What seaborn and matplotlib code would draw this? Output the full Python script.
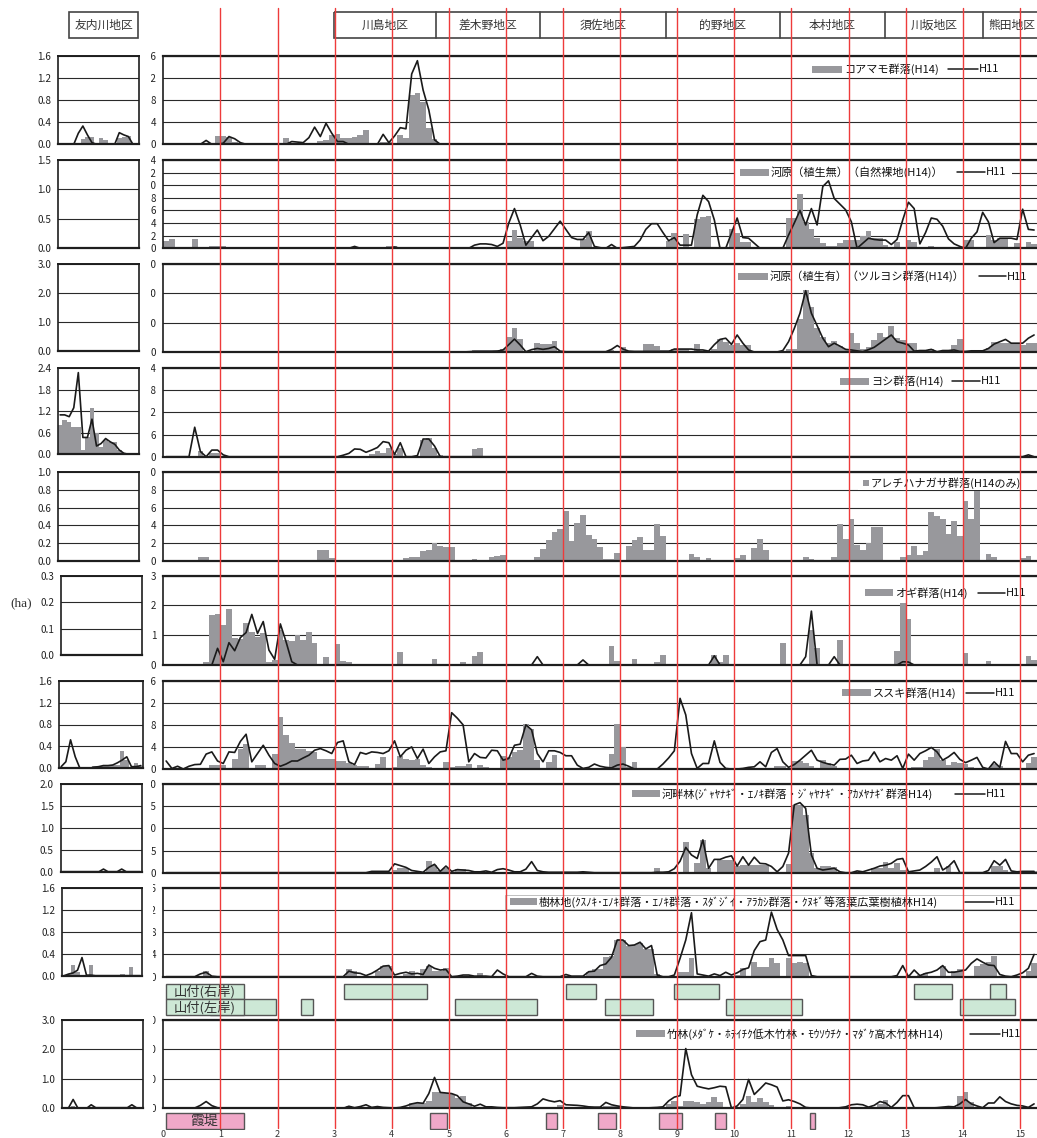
import numpy as np
import seaborn as sns
import matplotlib.pyplot as plt
from matplotlib.patches import Rectangle
from matplotlib.lines import Line2D
from matplotlib.transforms import Affine2D, Bbox, TransformedBbox

W, H = 1037, 1138
N = 153   # 0.1 km bins along the main river (0.0 - 15.3 km)
NL = 18   # survey points in the 友内川 panels


def pad(vals, n=N):
    # bins after the last listed value are empty
    vals = list(vals)[:n]
    return vals + [0] * (n - len(vals))


km = [round(0.05 + 0.1 * i, 2) for i in range(N)]
pts = list(range(NL))

# ---- main river: H14 area (bars) and H11 area (line), ha -------------------
koamamo_h14 = pad([
    0, 0, 0, 0, 0, 0, 0, 0, 0, 1.5,
    1.5, 1.3, 0.5, 0, 0, 0, 0, 0, 0, 0,
    0, 1.1, 0.2, 0.2, 0.2, 0.2, 0, 0.6, 0.7, 1.7,
    1.8, 1.2, 1.2, 1.4, 1.7, 2.5, 0, 0, 0.5, 0.5,
    0, 1.6, 1.2, 8.9, 9.2, 7.6, 2.9, 1.0, 0, 0,
    0, 0, 0, 0, 0, 0, 0, 0, 0.1])
koamamo_h11 = pad([
    0, 0, 0, 0, 0, 0, 0, 0.7, 0, 0,
    0.2, 1.4, 1.0, 0.3, 0, 0, 0, 0, 0, 0,
    0, 0, 0.5, 0.4, 0.3, 1.2, 3.1, 1.4, 3.8, 2.0,
    0.5, 0.5, 0, 0, 0, 0, 0, 0, 1.8, 0.3,
    1.5, 3.0, 2.8, 12.7, 15.1, 9.8, 6.2, 0.8])

kawara_bare_h14 = pad([
    1.2, 1.4, 0, 0.1, 0, 1.5, 0, 0, 0.4, 0.4,
    0.4, 0, 0, 0, 0, 0, 0.1, 0, 0, 0,
    0, 0, 0, 0, 0, 0.2, 0, 0, 0, 0,
    0, 0, 0, 0, 0, 0, 0, 0, 0, 0.3,
    0.3, 0, 0, 0, 0, 0, 0, 0, 0, 0,
    0, 0, 0, 0, 0, 0, 0, 0, 0, 0,
    1.2, 2.9, 1.7, 1.2, 1.2, 0, 0, 0, 0, 0,
    0, 0, 0, 1.4, 2.8, 0, 0, 0, 0, 0,
    0, 0, 0, 0, 0, 0, 0, 0, 1.2, 2.4,
    0, 2.3, 0, 4.6, 5.0, 5.2, 0, 0, 0, 3.0,
    2.5, 1.0, 1.0, 0, 0, 0, 0, 0, 0, 4.8,
    4.8, 8.6, 4.2, 3.1, 1.7, 0.9, 0.4, 0.3, 0.8, 1.3,
    1.3, 1.3, 2.0, 2.8, 1.6, 1.6, 0.5, 0, 1.0, 0,
    1.3, 1.0, 0, 0, 0.3, 0, 0, 0, 0, 0,
    1.3, 1.3, 0, 0, 2.1, 1.3, 1.6, 1.6, 0, 0.8,
    0, 1.0, 0.7])
kawara_bare_h11 = pad([0] * 33 + [0.3, 0, 0, 0, 0, 0, 0,
    0.2, 0, 0, 0, 0, 0, 0, 0, 0, 0,
    0, 0, 0, 0, 0.5, 0.7, 0.7, 0.6, 0.3, 0.8,
    4.0, 6.3, 3.7, 0.5, 1.7, 2.9, 1.2, 1.9, 3.1, 4.3,
    3.0, 1.7, 1.4, 1.4, 2.5, 0.3, 0.1, 0, 0.6, 0,
    0.1, 0.2, 0.3, 1.3, 3.0, 3.9, 3.9, 2.5, 1.2, 1.7,
    0.5, 0.5, 0.5, 5.3, 8.4, 7.4, 4.5, 0, 0, 2.4,
    4.8, 1.7, 1.6, 0.8, 0, 0, 0, 0, 0, 2.1,
    4.0, 6.0, 3.7, 6.3, 3.7, 9.8, 10.7, 7.9, 7.0, 6.1,
    4.2, 0, 0.8, 1.6, 1.4, 1.3, 1.3, 0.6, 1.4, 4.5,
    7.3, 6.3, 0.7, 2.5, 4.8, 4.6, 3.5, 1.5, 0.7, 0.3,
    0, 1.6, 2.6, 5.7, 4.2, 0.9, 1.6, 1.6, 1.6, 1.4,
    6.2, 3.0, 2.9])

kawara_veg_h14 = pad([0] * 50 + [
    0.3, 0.3, 0, 0, 0.6, 0.6, 0.6, 0.6, 0.6, 1.0,
    5.0, 8.1, 4.3, 0.3, 0.3, 3.2, 2.7, 2.7, 3.8, 0.5,
    0.5, 0, 0.5, 0, 0.5, 0.5, 0, 0, 0.8, 0,
    1.8, 0, 0, 0, 2.7, 2.7, 2.0, 0.8, 0.8, 1.0,
    1.0, 1.0, 0, 2.6, 0, 0, 1.0, 4.3, 3.5, 2.4,
    3.0, 2.4, 2.4, 0, 0, 0, 0, 0, 0, 0.9,
    0.9, 11.1, 21.1, 15.5, 8.1, 5.2, 3.0, 3.8, 2.0, 0.9,
    6.6, 3.0, 0.9, 1.8, 4.1, 6.4, 5.2, 8.9, 4.9, 4.1,
    3.0, 3.0, 0.7, 0.3, 0.9, 0, 0, 0, 2.4, 4.3,
    0, 0.5, 0.5, 0.8, 1.2, 3.5, 3.2, 3.2, 3.2, 3.2,
    2.4, 3.0, 3.0])
kawara_veg_h11 = pad([0] * 50 + [
    0, 0, 0, 0.1, 0.2, 0.2, 0.2, 0.2, 0.3, 0.7,
    2.5, 4.4, 2.4, 0.1, 0.8, 1.2, 0.9, 1.2, 1.8, 0.3,
    0.1, 0.1, 0.1, 0.1, 0.1, 0.1, 0.1, 0.1, 0.9, 2.2,
    1.0, 0.3, 0.2, 0.2, 0.2, 0.2, 0.2, 0.2, 0.2, 1.0,
    1.0, 1.0, 1.0, 0.7, 0.7, 0.3, 2.5, 4.3, 4.7, 2.6,
    5.8, 3.0, 0.7, 0, 0, 0, 0, 0, 0.5, 3.5,
    8.0, 13.2, 20.9, 13.2, 9.0, 4.7, 1.8, 3.0, 2.0, 0.9,
    0.7, 0.4, 0.1, 0.8, 1.6, 3.0, 4.4, 5.8, 3.5, 3.0,
    2.4, 0.3, 0.5, 0.5, 0.9, 0.1, 0.5, 0.5, 0.7, 0.2,
    0.2, 0.4, 0.4, 0.4, 1.2, 2.7, 3.5, 4.3, 3.0, 3.0,
    3.0, 4.7, 5.8])

yoshi_h14 = pad([0, 0, 0, 0, 0, 0, 1.6, 0.3, 1.1, 1.1] + [0] * 26 + [
    0.6, 1.6, 1.1, 2.3,
    0.6, 2.4, 0.3, 0.3, 0, 4.5, 5.0, 2.3, 0.4, 0,
    0, 0, 0, 0, 2.0, 2.3, 0.2])
yoshi_h11 = pad([0, 0, 0, 0, 0, 8.0, 1.4, 0, 1.8, 1.8, 0.5] + [0] * 20 + [
    0.4, 0.9, 2.1, 2.0, 1.2, 1.8, 2.5, 4.1, 3.8,
    0.6, 3.8, 0, 0, 0.3, 4.8, 4.8, 2.9] + [0] * 103 + [0.5])

arechi_h14 = pad([
    0, 0, 0, 0, 0, 0, 0.4, 0.4, 0, 0,
    0, 0, 0, 0, 0, 0, 0, 0, 0, 0,
    0, 0, 0, 0, 0, 0, 0, 1.2, 1.2, 0.3,
    0, 0, 0, 0.1, 0, 0, 0, 0, 0, 0,
    0, 0, 0.3, 0.45, 0.45, 1.1, 1.2, 2.0, 1.7, 1.5,
    1.6, 0, 0, 0, 0.15, 0, 0, 0.45, 0.5, 0.65,
    0, 0, 0, 0, 0, 0.4, 1.3, 2.3, 3.2, 3.6,
    5.6, 2.2, 4.3, 5.2, 2.9, 2.5, 1.6, 0.2, 0.2, 0.9,
    0, 1.7, 2.3, 2.7, 1.2, 1.2, 4.2, 2.8, 0, 0,
    0.1, 0, 0.75, 0.45, 0, 0.3, 0, 0, 0, 0,
    0.3, 0.65, 0, 1.4, 2.5, 1.2, 0, 0, 0, 0,
    0, 0, 0.4, 0.15, 0, 0, 0, 0.4, 4.2, 2.5,
    4.7, 1.8, 1.2, 2.0, 3.8, 3.8, 0, 0, 0, 0.4,
    0.65, 1.7, 0.65, 1.1, 5.5, 5.1, 4.7, 3.0, 4.5, 2.8,
    6.8, 4.7, 7.9, 0, 0.75, 0.45, 0, 0, 0, 0,
    0.3, 0.5, 0])

ogi_h14 = pad([
    0, 0, 0, 0, 0, 0, 0, 0.11, 1.68, 1.71,
    1.34, 1.88, 0.92, 0.87, 1.40, 1.12, 0.95, 1.09, 0.11, 0.17,
    1.18, 0.84, 0.82, 1.01, 0.84, 1.12, 0.73, 0, 0.28, 0,
    0.71, 0.15, 0.11, 0, 0, 0, 0, 0, 0, 0,
    0, 0.45, 0, 0, 0, 0, 0, 0.2, 0, 0,
    0, 0, 0.11, 0, 0.3, 0.45, 0, 0, 0, 0,
    0, 0, 0, 0, 0, 0, 0, 0, 0, 0,
    0, 0, 0, 0, 0, 0, 0, 0, 0.64, 0.13,
    0, 0, 0.2, 0, 0, 0, 0.11, 0.34, 0, 0,
    0, 0, 0, 0, 0, 0, 0.34, 0.1, 0.34, 0,
    0, 0, 0, 0, 0, 0, 0, 0, 0.75, 0,
    0, 0, 0, 1.18, 0.58, 0, 0, 0, 0.84, 0,
    0, 0, 0, 0, 0, 0, 0, 0, 0.48, 2.07,
    1.55, 0, 0, 0, 0, 0, 0, 0, 0, 0,
    0.41, 0, 0, 0, 0.13, 0, 0, 0, 0, 0,
    0, 0.30, 0.17])
ogi_h11 = pad([
    0, 0, 0, 0, 0, 0, 0, 0, 0, 0.56,
    0.11, 0.75, 0.48, 0.92, 1.09, 1.70, 1.06, 1.46, 0.5, 0.19,
    1.38, 0.78, 0.11] + [0] * 42 + [0.28] + [0] * 7 + [0.17] + [0] * 22 + [0.31]
    + [0] * 15 + [0.28, 1.81, 0, 0, 0, 0.28] + [0] * 11 + [0.11, 0.1])

susuki_h14 = pad([
    0, 0, 0, 0, 0, 0, 0, 0, 0.7, 0.7,
    0.7, 0, 1.8, 3.7, 4.5, 0, 0.7, 0.7, 0, 2.7,
    9.5, 6.2, 4.8, 3.7, 3.6, 3.3, 3.1, 1.9, 1.9, 1.8,
    1.45, 1.45, 1.0, 0.7, 0.5, 0.5, 0, 0.9, 2.2, 0,
    0.4, 2.4, 1.75, 1.6, 1.8, 0.7, 0.4, 0, 0, 1.3,
    0.3, 0.5, 0.5, 0.85, 0, 0.7, 0.4, 0, 0, 2.3,
    2.2, 3.0, 3.4, 8.1, 7.2, 1.6, 0, 1.3, 2.5, 0,
    0, 0, 0, 0, 0, 0, 0, 0, 2.7, 8.1,
    4.0, 0.3, 1.3, 0, 0, 0, 0, 0, 0, 0,
    0, 0.2, 0, 0, 0, 0, 0, 0, 0, 0,
    0, 0, 0, 0, 0, 0, 0, 0.6, 0.6, 0,
    1.5, 1.4, 1.0, 0.6, 0, 1.7, 1.0, 0.5, 0, 0,
    0, 0, 0, 0, 0, 0, 0, 0, 0, 0,
    0, 0.3, 0.4, 1.7, 2.1, 3.6, 1.7, 0.8, 1.3, 1.0,
    0.9, 0.4, 0, 0, 0, 0.9, 0.6, 0, 0, 0,
    0, 1.0, 2.1])
susuki_h11 = pad([
    1.45, 0.1, 0.5, 0, 0.5, 0.8, 0.85, 2.7, 3.1, 1.45,
    1.0, 3.1, 3.0, 5.0, 6.3, 1.3, 2.8, 4.3, 2.5, 1.0,
    0.5, 0.9, 1.45, 1.45, 2.0, 2.5, 3.4, 3.7, 3.3, 2.8,
    4.8, 5.1, 1.3, 0.8, 3.0, 2.7, 3.1, 3.0, 2.8, 3.3,
    5.1, 2.2, 3.4, 4.0, 1.9, 3.6, 1.0, 2.2, 3.1, 3.3,
    10.2, 9.2, 8.0, 1.3, 2.8, 2.1, 2.0, 3.4, 3.3, 1.6,
    1.9, 4.3, 4.5, 8.0, 7.1, 2.8, 1.3, 3.3, 3.3, 3.0,
    2.4, 2.4, 0.7, 0.1, 0.3, 0.9, 0.5, 0.3, 0.2, 0.7,
    0.9, 0.5, 0, 0, 0, 0, 0, 0.9, 2.0, 3.3,
    12.8, 9.8, 2.8, 0.1, 1.0, 1.0, 5.1, 1.2, 0.1, 0,
    0, 0.1, 0.3, 0.4, 1.3, 0.4, 3.0, 3.7, 1.3, 0.3,
    0.8, 1.6, 2.5, 3.4, 1.6, 1.2, 0.9, 0.7, 1.75, 1.8,
    2.5, 1.0, 1.45, 1.6, 3.1, 1.3, 1.9, 1.6, 2.4, 0.1,
    2.7, 1.6, 2.8, 3.3, 3.9, 3.1, 1.6, 2.2, 3.0, 1.75,
    1.15, 1.6, 2.1, 0.3, 0, 1.3, 0.3, 5.0, 2.8, 2.8,
    1.3, 2.5, 2.8])

kahan_h14 = pad([0] * 36 + [0.2, 0.2, 0.2, 0.2,
    0.6, 1.1, 1.1, 0, 0, 0, 2.7, 1.7, 0.7, 1.0,
    0, 0.8, 0.8, 0, 0.2, 0.2, 0, 0, 0.1, 0] + [0] * 26 + [1.0, 0, 0, 0,
    0, 6.9, 0, 2.1, 7.4, 1.0, 0, 2.9, 2.9, 2.9,
    1.4, 1.7, 1.7, 1.7, 1.7, 1.7, 0, 0, 0, 1.9,
    15.3, 15.3, 13.0, 4.4, 1.0, 1.4, 1.4, 1.2, 0, 0,
    0, 0, 0, 0, 1.0, 1.0, 2.5, 1.0, 2.1, 0.6,
    0, 0, 0, 0, 0, 1.0, 0, 1.4, 0, 0,
    0, 0, 0, 0, 0, 1.4, 1.4, 0.6, 0, 0,
    0, 0, 0.3])
kahan_h11 = pad([0] * 36 + [0.3, 0.3, 0.3, 0.3,
    2.0, 1.6, 1.2, 0.5, 0.3, 0.1, 1.2, 1.9, 0.3, 1.5,
    0.3, 0.7, 0.6, 0.5, 0.2, 0.2, 0.4, 0.1, 0.7, 0.9,
    0.6, 0.2, 0.2, 0.8, 2.5, 0.5, 0.2, 0.1, 0.1, 0.1,
    0.1, 0.1, 0.1, 0.2, 0.1, 0, 0, 0, 0, 0,
    0, 0, 0, 0, 0, 0, 0.1, 0.1, 0.2, 0.9,
    2.6, 5.7, 4.0, 3.2, 7.4, 1.0, 3.0, 3.0, 3.5, 3.8,
    1.5, 3.6, 1.7, 3.5, 2.1, 2.0, 1.4, 0.2, 1.4, 4.4,
    15.3, 15.8, 14.5, 4.0, 1.0, 0.6, 0.8, 1.0, 0.2, 0,
    0, 0.4, 0.2, 0.6, 1.0, 1.5, 1.7, 2.1, 3.0, 3.2,
    0.2, 0.4, 0.6, 1.4, 2.4, 3.6, 0.6, 1.4, 2.7, 0,
    0, 0, 0, 0, 0.5, 2.7, 1.7, 3.0, 0.4, 0.2,
    0.3, 0.3, 0.3])

jurin_h14 = pad([0, 0, 0, 0, 0, 0, 0, 1.0, 0, 0] + [0] * 22 + [
    1.4, 1.0, 0, 0, 0, 1.0, 2.0, 2.0,
    0, 0, 0.4, 1.0, 0, 1.3, 2.0, 1.0, 1.0, 1.5,
    0, 0, 0, 0, 0, 0.7, 0, 0, 0, 0,
    0, 0, 0, 0, 0, 0, 0, 0, 0, 0,
    0, 0, 0, 0, 0.9, 1.3, 1.3, 3.6, 3.7, 6.6,
    6.6, 5.6, 5.7, 6.0, 5.0, 5.0, 0.5, 0, 0, 0,
    0.8, 0.8, 3.3, 0, 0, 0, 0, 0, 0, 0,
    0.3, 1.5, 0, 2.6, 1.7, 1.7, 3.4, 2.4, 0, 3.4,
    2.5, 2.6, 2.5, 0, 0, 0, 0, 0, 0, 0,
    0, 0, 0, 0, 0, 0, 0, 0, 0, 0,
    0, 0, 0.3, 0.7, 0, 0, 1.9, 0, 1.1, 1.4,
    0, 0, 2.0, 2.2, 2.6, 3.8, 0, 0, 0, 0,
    0, 1.0, 2.5])
jurin_h11 = pad([0, 0, 0, 0, 0, 0, 0.5, 0.8, 0.1, 0] + [0] * 22 + [
    1.0, 0.7, 0.6, 0.2, 0.6, 1.2, 1.9, 2.0,
    0.3, 0.6, 0.8, 0.5, 0.6, 0.4, 2.1, 1.5, 1.2, 1.3,
    0, 0.1, 0.3, 0.3, 0.1, 0.1, 0.1, 0, 1.2, 0.5,
    0, 0, 0, 0, 0.6, 0.1, 0, 0, 0, 0,
    0.4, 0.1, 0.1, 0.1, 0.9, 1.0, 2.0, 2.3, 3.5, 6.6,
    6.6, 5.6, 5.7, 6.2, 5.0, 5.6, 0.3, 0, 0, 0.3,
    3.3, 6.6, 11.5, 0.5, 0.3, 0.1, 0.5, 0.2, 0.8, 0.3,
    0.7, 1.3, 1.6, 4.7, 6.3, 6.6, 11.6, 8.5, 6.6, 3.8,
    3.8, 3.8, 3.8, 0.2, 0, 0, 0, 0, 0, 0,
    0, 0, 0, 0, 0, 0, 0, 0, 0.2, 2.0,
    0, 1.2, 0.2, 0.6, 0.8, 1.2, 2.0, 0.8, 0.8, 1.0,
    1.2, 2.4, 3.2, 2.6, 2.1, 2.0, 0.4, 0.1, 0, 0.3,
    0.7, 1.5, 4.0])

take_h14 = pad([0] * 32 + [0.8, 0, 0, 0, 0, 0, 0, 0,
    0, 0, 0, 1.8, 1.8, 1.8, 2.5, 5.7, 5.7, 5.3,
    5.0, 3.5, 4.3, 1.8, 0, 0, 0, 0.4, 0, 0,
    0, 0, 0.3, 0, 0, 0, 0, 0, 0, 1.0,
    0, 0, 0, 0, 0, 0, 0, 0.7, 0.8, 0.8,
    0, 0, 0, 0, 0, 0, 0.5, 0, 1.5, 2.6,
    0.9, 2.6, 2.6, 2.0, 1.6, 2.2, 3.7, 2.2, 0, 0,
    0, 1.4, 4.2, 2.2, 3.5, 2.3, 1.1, 0, 0, 0.8,
    0, 0, 0, 0, 0, 0, 0, 0, 0, 0,
    0, 0, 0, 0, 0, 1.4, 2.7, 0, 0, 0,
    0, 0, 0, 0, 0, 0, 0, 0, 0, 4.3,
    5.7, 2.0, 0, 0.5, 0.5, 0, 0.5, 0, 0, 0])
take_h11 = pad([0, 0, 0, 0, 0, 0.1, 1.0, 2.3, 0.9, 0.2] + [0] * 22 + [
    0.7, 0.2, 0.6, 1.2, 0.3, 0.6, 0.3, 0.2,
    0.1, 0.3, 0.8, 1.5, 1.9, 1.7, 5.0, 10.5, 5.4, 5.2,
    5.0, 4.3, 2.2, 1.5, 0.7, 1.4, 0.5, 0.5, 0.3, 0.2,
    0.2, 0.2, 0.3, 0.4, 0.5, 1.5, 3.2, 2.6, 2.2, 2.6,
    1.2, 1.1, 1.0, 0.8, 0.5, 0.4, 0.4, 2.0, 1.2, 0.8,
    0.5, 0.3, 0.1, 0.1, 0.1, 0.2, 0.3, 0.5, 2.5, 3.8,
    4.3, 20.3, 11.4, 7.5, 7.0, 6.6, 7.0, 7.5, 7.3, 0.1,
    0.8, 3.0, 9.8, 4.7, 6.6, 8.6, 8.0, 7.2, 2.5, 2.9,
    2.3, 1.5, 0.3, 0.1, 0, 0, 0, 0, 0.2, 0.5,
    1.2, 1.4, 1.2, 0.4, 1.0, 2.3, 1.8, 0.3, 2.0, 4.3,
    4.3, 0.2, 0, 0, 0.1, 0.2, 0.4, 0.6, 0.5, 1.5,
    3.0, 1.5, 0.8, 0.2, 1.8, 1.8, 3.9, 2.3, 1.5, 1.0,
    0.8, 0.3, 1.5])

# ---- 友内川 (side panels) ---------------------------------------------------
tomo_koamamo_h14 = [0, 0, 0, 0, 0, 0.09, 0.14, 0.14, 0, 0.12, 0.08, 0, 0, 0.11, 0.14, 0.15, 0, 0]
tomo_koamamo_h11 = [0, 0, 0, 0, 0.2, 0.33, 0.17, 0.03, 0, 0, 0, 0, 0, 0.21, 0.17, 0.14, 0, 0]
tomo_yoshi_h14 = [0.82, 0.96, 0.9, 0.76, 0.76, 0.12, 0.47, 1.28, 0.59, 0.19, 0.40, 0.35, 0.35, 0.12, 0.03, 0, 0, 0]
tomo_yoshi_h11 = [1.1, 1.1, 1.05, 1.3, 2.28, 0.47, 0.47, 0.98, 0.23, 0.3, 0.44, 0.35, 0.28, 0.12, 0.03, 0, 0, 0]
tomo_susuki_h14 = [0, 0, 0, 0, 0, 0, 0, 0.04, 0.05, 0.05, 0.05, 0.06, 0.06, 0.32, 0.16, 0.03, 0.1, 0.05]
tomo_susuki_h11 = [0.03, 0.12, 0.52, 0.21, 0, 0, 0, 0.02, 0.03, 0.05, 0.05, 0.06, 0.1, 0.15, 0.21, 0.03, 0.03, 0.05]
tomo_kahan_h11 = [0, 0, 0, 0, 0, 0, 0, 0, 0, 0.06, 0, 0, 0, 0.06, 0, 0, 0, 0]
tomo_jurin_h14 = [0, 0.04, 0.19, 0.07, 0, 0, 0.19, 0.02, 0, 0, 0, 0, 0, 0.04, 0, 0.16, 0, 0]
tomo_jurin_h11 = [0, 0.03, 0.05, 0.1, 0.33, 0.01, 0.01, 0, 0, 0, 0, 0, 0, 0, 0, 0, 0, 0]
tomo_take_h14 = [0, 0, 0.08, 0, 0, 0, 0.05, 0, 0, 0, 0, 0, 0, 0, 0, 0.05, 0, 0]
tomo_take_h11 = [0, 0.02, 0.3, 0.02, 0, 0, 0.12, 0.02, 0.02, 0.02, 0.02, 0.02, 0.02, 0.02, 0.02, 0.12, 0.02, 0]

# ---- bank strips (km) ------------------------------------------------------
right_bank_start = [3.17, 7.05, 8.95, 13.15, 14.47]
right_bank_end = [4.62, 7.58, 9.73, 13.81, 14.76]
left_bank_start = [0.82, 2.41, 5.10, 7.73, 9.85, 13.95]
left_bank_end = [1.98, 2.62, 6.55, 8.58, 11.19, 14.91]
kasumi_start = [0.05, 4.67, 6.71, 7.61, 8.68, 9.66, 11.32]
kasumi_end = [1.41, 4.97, 6.89, 7.92, 9.09, 9.86, 11.42]

districts = ["川島地区", "差木野地区", "須佐地区", "的野地区", "本村地区", "川坂地区", "熊田地区"]

labels = [
    "コアマモ群落(H14)",
    "河原（植生無）（自然裸地(H14)）",
    "河原（植生有）（ツルヨシ群落(H14)）",
    "ヨシ群落(H14)",
    "アレチハナガサ群落(H14のみ)",
    "オギ群落(H14)",
    "ススキ群落(H14)",
    "河畔林(ｼﾞｬﾔﾅｷﾞ・ｴﾉｷ群落・ｼﾞｬﾔﾅｷﾞ・ｱｶﾒﾔﾅｷﾞ群落H14)",
    "樹林地(ｸｽﾉｷ･ｴﾉｷ群落・ｴﾉｷ群落・ｽﾀﾞｼﾞｲ・ｱﾗｶｼ群落・ｸﾇｷﾞ等落葉広葉樹植林H14)",
    "竹林(ﾒﾀﾞｹ・ﾎﾃｲﾁｸ低木竹林・ﾓｳｿｳﾁｸ・ﾏﾀﾞｹ高木竹林H14)",
]
main_h14 = [koamamo_h14, kawara_bare_h14, kawara_veg_h14, yoshi_h14, arechi_h14,
            ogi_h14, susuki_h14, kahan_h14, jurin_h14, take_h14]
main_h11 = [koamamo_h11, kawara_bare_h11, kawara_veg_h11, yoshi_h11, None,
            ogi_h11, susuki_h11, kahan_h11, jurin_h11, take_h11]
side_h14 = [tomo_koamamo_h14, None, None, tomo_yoshi_h14, None,
            None, tomo_susuki_h14, None, tomo_jurin_h14, tomo_take_h14]
side_h11 = [tomo_koamamo_h11, None, None, tomo_yoshi_h11, None,
            None, tomo_susuki_h11, tomo_kahan_h11, tomo_jurin_h11, tomo_take_h11]

# ---- layout (pixels) ------------------------------------------------------
main_scale = [(16, 4), (14, 2), (30, 10), (24, 6), (10, 2), (3, 1), (16, 4), (20, 5), (16, 4), (30, 10)]
side_scale = [(1.6, 0.4), (1.5, 0.5), (3.0, 1.0), (2.4, 0.6), (1.0, 0.2), (0.3, 0.1),
              (1.6, 0.4), (2.0, 0.5), (1.6, 0.4), (3.0, 1.0)]
main_top = [55.7, 160, 264, 368.3, 472.3, 575.7, 680.7, 784, 887.7, 1020]
main_bot = [144.3, 248.3, 352, 456.7, 560.7, 665, 769, 872.7, 976.7, 1108.3]
side_box = [(58.3, 139.3, 55.7, 144.3), (58.3, 139.3, 160, 248.3), (58.3, 139.3, 264, 350.7),
            (58.3, 139.3, 368.3, 454.3), (58.3, 139.3, 472.3, 560.7), (61, 141.7, 575.7, 655),
            (59.3, 142.7, 680.7, 768.3), (60.7, 141.7, 784, 871.7), (62.3, 142, 887.7, 975.7),
            (62.3, 142.7, 1020, 1108.3)]
# y, bar key x0, x1, H11 line x0, x1, white box x0, x1
legend_pos = [(69, 812, 842, 948, 978, 806, 1000), (172, 740, 769, 957, 985, 735, 1012),
              (276.5, 738, 768, 979, 1006, 733, 1030), (381, 840, 869, 952, 980, 835, 1005),
              (483, 863, 869, None, None, 858, 1035), (593, 865, 893, 978, 1005, 860, 1030),
              (693, 842, 871, 966, 994, 837, 1020), (794, 632, 660, 955, 985, 627, 1012),
              (902, 510, 537, 965, 994, 505, 1020), (1034, 636, 665, 970, 1000, 631, 1025)]

BAR = "#98989c"
LINE = "#1a1a1a"
GRID = "#2a2a2a"
RED = "#ee3b3b"
X0_PX, PX_PER_KM = 163.3, 57.1
XMAX = (W - X0_PX) / PX_PER_KM

sns.set_style("white")
plt.rcParams["font.family"] = ["Noto Sans CJK JP", "DejaVu Sans"]

fig = plt.figure(figsize=(W / 100, H / 100), dpi=100)
PX = Affine2D().scale(1 / W, -1 / H).translate(0, 1) + fig.transFigure


def px_axes(x0, x1, y0, y1):
    return fig.add_axes([x0 / W, 1 - y1 / H, (x1 - x0) / W, (y1 - y0) / H])


def finish(ax, ymax, step, fmt, size):
    ticks = np.arange(0, ymax + step / 2, step)
    ax.set_ylim(0, ymax)
    ax.set_yticks(ticks)
    ax.set_yticklabels([fmt(t) for t in ticks])
    ax.tick_params(axis="x", direction="in", length=2.2, width=0.7, color="#222", labelbottom=False)
    ax.tick_params(axis="y", length=2, width=0.8, pad=3, labelsize=size, colors="#222")
    ax.grid(axis="y", color=GRID, linewidth=0.8)
    ax.grid(axis="x", visible=False)
    ax.set_axisbelow(True)
    ax.set_xlabel("")
    ax.set_ylabel("")
    for sp in ax.spines.values():
        sp.set_color("#1e1e1e")
        sp.set_linewidth(1.2)
    ax.spines["bottom"].set_linewidth(1.6)


for r in range(10):
    # main river panel
    ax = px_axes(X0_PX, W, main_top[r], main_bot[r])
    sns.barplot(x=km, y=main_h14[r], native_scale=True, orient="x", width=1.0, color=BAR,
                saturation=1, errorbar=None, linewidth=0, ax=ax)
    if main_h11[r] is not None:
        sns.lineplot(x=km, y=main_h11[r], color=LINE, linewidth=1.2, errorbar=None, ax=ax)
    ax.set_xlim(0, XMAX)
    ax.set_xticks(np.arange(0, XMAX, 0.1))
    ymax, step = main_scale[r]
    finish(ax, ymax, step, lambda t: f"{t:g}", 7)
    ax.spines["right"].set_visible(False)
    ax.spines["top"].set_linewidth(1.6)
    # the labels were cut at the chart edge in the source, only the last digit shows
    clip_x = 153 if r >= 8 else 150.5
    clip = TransformedBbox(Bbox([[clip_x / W, 0], [1, 1]]), fig.transFigure)
    for t in ax.yaxis.get_major_ticks():
        t.label1.set_clip_box(clip)
        t.label1.set_clip_on(True)

    # 友内川 panel
    x0, x1, y0, y1 = side_box[r]
    sx = px_axes(x0, x1, y0, y1)
    if side_h14[r] is not None:
        sns.barplot(x=pts, y=side_h14[r], native_scale=True, orient="x", width=1.0, color=BAR,
                    saturation=1, errorbar=None, linewidth=0, ax=sx)
    if side_h11[r] is not None:
        sns.lineplot(x=pts, y=side_h11[r], color=LINE, linewidth=1.2, errorbar=None, ax=sx)
    sx.set_xlim(-0.4, NL - 0.6)
    sx.set_xticks(pts)
    lmax, lstep = side_scale[r]
    finish(sx, lmax, lstep, lambda t: f"{t:.1f}", 7.2)
    sx.spines["top"].set_linewidth(1.4)

    # legend
    y, k0, k1, l0, l1, b0, b1 = legend_pos[r]
    framed = r == 8
    fig.add_artist(Rectangle((b0, y - 7), b1 - b0, 14, transform=PX, fc="white",
                             ec="#b5b5b5" if framed else "none", lw=0.6, zorder=3))
    kh = 6 if l0 is None else 7
    fig.add_artist(Rectangle((k0, y - kh / 2), k1 - k0, kh, transform=PX, fc=BAR, ec="none", zorder=4))
    fig.text(k1 + 2, y, labels[r], transform=PX, ha="left", va="center", fontsize=8,
             color="#111", zorder=4)
    if l0 is not None:
        fig.add_artist(Line2D([l0, l1], [y, y], transform=PX, color=LINE, lw=1.1, zorder=4))
        fig.text(l1 + 1, y, "H11", transform=PX, ha="left", va="center", fontsize=8,
                 color="#111", zorder=4)

# 山付 strip between 樹林地 and 竹林
band = px_axes(X0_PX, W, 980, 1017)
band.set_xlim(0, XMAX)
band.set_ylim(1017, 980)
band.axis("off")
band.barh([991.6] * len(right_bank_start), np.subtract(right_bank_end, right_bank_start),
          left=right_bank_start, height=14.8, color="#cde8d6", edgecolor="#555", linewidth=1.0)
band.barh([1007] * len(left_bank_start), np.subtract(left_bank_end, left_bank_start),
          left=left_bank_start, height=16, color="#cde8d6", edgecolor="#555", linewidth=1.0)
for yy, hh, txt in [(984.3, 14.7, "山付(右岸)"), (999, 16, "山付(左岸)")]:
    fig.add_artist(Rectangle((165.7, yy), 78.6, hh, transform=PX, fc="#cde8d6", ec="#555",
                             lw=1.0, zorder=3))
    fig.text(205, yy + hh / 2 + 0.3, txt, transform=PX, ha="center", va="center",
             fontsize=9.5, color="#333", zorder=4)

# 霞堤 strip and km axis
kasumi = px_axes(X0_PX, W, 1111, 1130)
kasumi.set_xlim(0, XMAX)
kasumi.set_ylim(1130, 1111)
kasumi.barh([1120.8] * len(kasumi_start), np.subtract(kasumi_end, kasumi_start),
            left=kasumi_start, height=16.5, color="#f0a8c8", edgecolor="#555", linewidth=1.0)
kasumi.set_facecolor("none")
for sp in kasumi.spines.values():
    sp.set_visible(False)
kasumi.set_yticks([])
kasumi.set_xticks(range(16))
kasumi.set_xticklabels([str(i) for i in range(16)])
kasumi.tick_params(axis="x", length=0, pad=0.3, labelsize=6.5, labelcolor="#333")
kasumi.text((kasumi_start[0] + kasumi_end[0]) / 2, 1121, "霞堤", ha="center", va="center",
            fontsize=10, color="#333")

# district header
fig.add_artist(Rectangle((69.3, 11.7), 69, 26, transform=PX, fill=False, ec="#444", lw=1.2))
fig.text(103.8, 25, "友内川地区", transform=PX, ha="center", va="center", fontsize=8.5, color="#333")
edges = [334, 436, 540, 666, 780, 885, 983, W + 40]
fig.add_artist(Rectangle((334, 11.7), W + 10 - 334, 26, transform=PX, fill=False, ec="#444", lw=1.2))
for i, name in enumerate(districts):
    if i > 0:
        fig.add_artist(Line2D([edges[i], edges[i]], [11.7, 37.7], transform=PX, color="#444", lw=1.2))
    cx = (edges[i] + edges[i + 1]) / 2 if i < 6 else 1012
    fig.text(cx, 25, name, transform=PX, ha="center", va="center", fontsize=8.5, color="#333")

fig.text(21, 603, "(ha)", transform=PX, ha="center", va="center", fontsize=9.5, color="#333",
         family=["Liberation Serif", "DejaVu Serif"])

# kilometre posts
for k in range(1, 16):
    x = X0_PX + k * PX_PER_KM
    fig.add_artist(Line2D([x, x], [8, 1128], transform=PX, color=RED, lw=1.0, zorder=10))

fig.savefig("out.png", dpi=100)
